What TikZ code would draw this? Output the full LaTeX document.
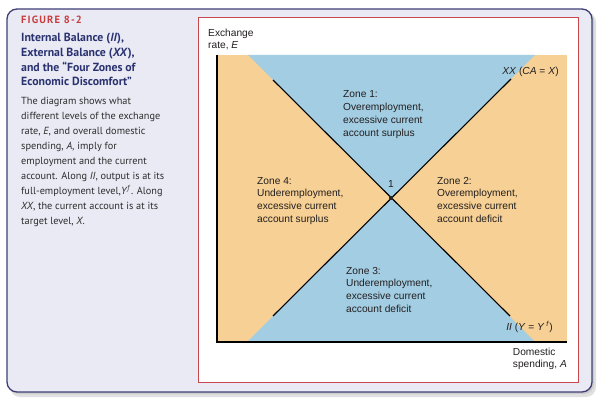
\documentclass[tikz,border=0pt]{standalone}
\usepackage{fontspec}
\setmainfont{Liberation Sans}
\newfontfamily\leftfont{PT Sans}
\definecolor{lav}{RGB}{234,234,245}
\definecolor{navy}{RGB}{62,62,118}
\definecolor{redline}{RGB}{200,72,80}
\definecolor{peach}{RGB}{246,208,148}
\definecolor{skyb}{RGB}{163,205,226}
\definecolor{titlec}{RGB}{42,50,112}
\definecolor{figred}{RGB}{200,62,62}
\definecolor{bodyc}{RGB}{45,45,45}
\definecolor{diagc}{RGB}{35,31,32}
\begin{document}
\begin{tikzpicture}[x=1pt,y=-1pt,
  zonetxt/.style={anchor=base west,inner sep=0pt,align=left,font=\fontsize{10.2}{12.8}\selectfont,text=diagc},
  lbl/.style={inner sep=0pt,font=\fontsize{10.2}{12}\selectfont,text=diagc},
  curve/.style={line width=1.1pt,draw=black},
  lefttxt/.style={anchor=base west,inner sep=0pt,align=left,text=bodyc,font=\leftfont\fontsize{10.3}{15}\selectfont},
  titletxt/.style={anchor=base west,inner sep=0pt,align=left,text=titlec,font=\leftfont\bfseries\fontsize{11.8}{14.6}\selectfont}]
\useasboundingbox (0,0) rectangle (602,401);
% shadow and frame
\fill[black!12,rounded corners=10pt] (10,12) rectangle (596,397);
\fill[black!20,rounded corners=10pt] (9,11) rectangle (594,394);
\draw[navy,line width=1.3pt,fill=lav,rounded corners=10pt] (7,9) rectangle (592,392);
\draw[redline,line width=0.9pt,fill=white] (198,17) rectangle (578,382);
% left column (base anchor = last line baseline)
\node[anchor=base west,inner sep=0pt,text=figred,font=\leftfont\bfseries\fontsize{10.5}{12}\selectfont\addfontfeature{LetterSpace=11}] (fig) at (21,24) {FIGURE 8-2};
\node[titletxt] (title) at (21,85.8) {Internal Balance (\textit{II}),\\External Balance (\textit{XX}),\\and the “Four Zones of\\Economic Discomfort”};
\node[lefttxt] (body) at (21,224) {The diagram shows what\\different levels of the exchange\\rate, \textit{E}, and overall domestic\\spending, \textit{A}, imply for\\employment and the current\\account. Along \textit{II}, output is at its\\full-employment level,\textit{Y}\textsuperscript{\textit{f}}. Along\\\textit{XX}, the current account is at its\\target level, \textit{X}.};
% regions
\fill[peach] (217,55) rectangle (567,342);
\coordinate (O) at (391,198);
\fill[skyb] (248,55) -- (535,55) -- (O) -- cycle;
\fill[skyb] (247,342) -- (535,342) -- (O) -- cycle;
% axes
\coordinate (ytop) at (217,55);
\coordinate (orig) at (217,342);
\coordinate (xend) at (567,342);
\draw[line width=1.1pt] (ytop) -- (orig) -- (xend);
% curves
\coordinate (iiA) at (273,80);
\coordinate (iiB) at (510,316);
\coordinate (xxA) at (273,316);
\coordinate (xxB) at (511,79);
\draw[curve] (iiA) -- (iiB);
\draw[curve] (xxA) -- (xxB);
\node[fill=black!85,minimum size=3.8pt,inner sep=0pt] (pt1) at (O) {};
\node[lbl,anchor=base] (one) at (391,187) {1};
% axis labels
\node[lbl,anchor=base west,align=left] (ylab) at (208,49) {Exchange\\rate, \textit{E}};
\node[lbl,anchor=base east,align=left] (xlab) at (567,367) {Domestic\\spending, \textit{A}};
\node[lbl,anchor=base east] (xxlab) at (559,75) {\textit{XX} (\textit{CA} = \textit{X})};
\node[lbl,anchor=base east] (iilab) at (553,330) {\textit{II} (\textit{Y} = \textit{Y}\,\textsuperscript{\textit{f}})};
% zones
\node[zonetxt] (z1) at (343,136.4) {Zone 1:\\Overemployment,\\excessive current\\account surplus};
\node[zonetxt] (z4) at (257,222.4) {Zone 4:\\Underemployment,\\excessive current\\account surplus};
\node[zonetxt] (z2) at (437,222.4) {Zone 2:\\Overemployment,\\excessive current\\account deficit};
\node[zonetxt] (z3) at (346,312.4) {Zone 3:\\Underemployment,\\excessive current\\account deficit};
\end{tikzpicture}
\end{document}
